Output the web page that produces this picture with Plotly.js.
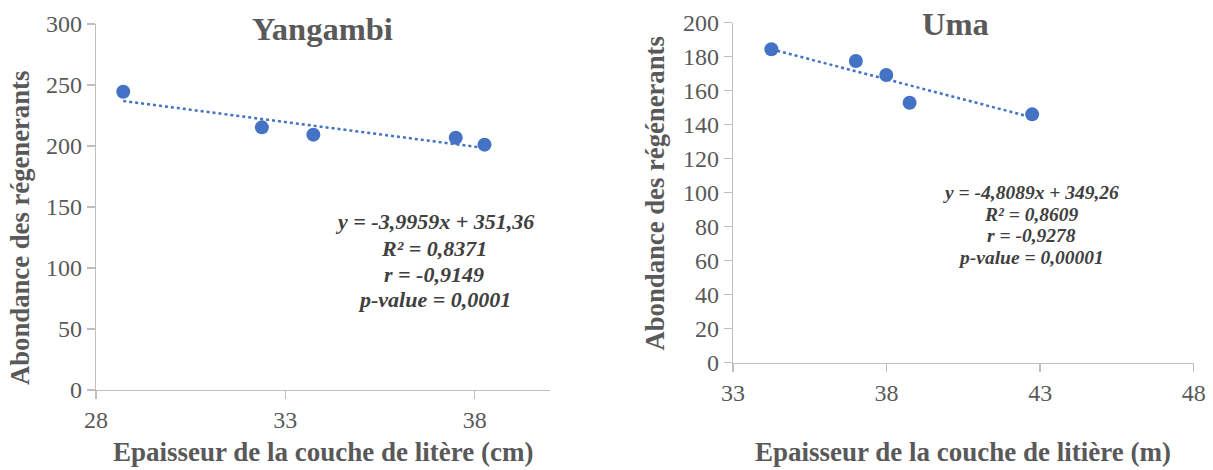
<!DOCTYPE html>
<html>
<head>
<meta charset="utf-8">
<script src="https://cdn.plot.ly/plotly-3.0.1.min.js"></script>
<style>html,body{margin:0;padding:0;background:#fff;}#chart{width:1213px;height:470px;}</style>
</head>
<body>
<div id="chart"></div>
<script>
// Yangambi data
const yangX = [28.72, 32.38, 33.74, 37.5, 38.26];
const yangY = [244.5, 215.3, 209.3, 206.8, 201.1];
const yangTrendX = [28.72, 38.26];
const yangTrendY = [236.9, 198.4];
const yangTitle = 'Yangambi';
const yangXTitle = 'Epaisseur de la couche de litère (cm)';
const yangYTitle = 'Abondance des régenerants';
const yangEq = ['y = -3,9959x + 351,36', 'R² = 0,8371', 'r = -0,9149', 'p-value = 0,0001'];
const yangXTicks = [28, 33, 38];
const yangYTicks = [0, 50, 100, 150, 200, 250, 300];

// Uma data
const umaX = [34.25, 37.0, 37.99, 38.75, 42.74];
const umaY = [184.4, 177.5, 169.2, 152.9, 146.1];
const umaTrendX = [34.25, 42.66];
const umaTrendY = [184.4, 144.7];
const umaTitle = 'Uma';
const umaXTitle = 'Epaisseur de la couche de litière (m)';
const umaYTitle = 'Abondance des régénerants';
const umaEq = ['y = -4,8089x + 349,26', 'R² = 0,8609', 'r = -0,9278', 'p-value = 0,00001'];
const umaXTicks = [33, 38, 43, 48];
const umaYTicks = [0, 20, 40, 60, 80, 100, 120, 140, 160, 180, 200];

const BLUE = '#4472C4';
const FONT = 'Liberation Serif';
const TXT = '#595959';
const EQ = '#404040';
const W = 1213, H = 470;
const px = v => v / W;
const py = v => 1 - v / H;

const traces = [
  {x: yangTrendX, y: yangTrendY, mode: 'lines', line: {color: BLUE, width: 2.5, dash: 'dot'}, xaxis: 'x', yaxis: 'y', hoverinfo: 'skip'},
  {x: yangX, y: yangY, mode: 'markers', marker: {color: BLUE, size: 14}, xaxis: 'x', yaxis: 'y'},
  {x: umaTrendX, y: umaTrendY, mode: 'lines', line: {color: BLUE, width: 2.5, dash: 'dot'}, xaxis: 'x2', yaxis: 'y2', hoverinfo: 'skip'},
  {x: umaX, y: umaY, mode: 'markers', marker: {color: BLUE, size: 14}, xaxis: 'x2', yaxis: 'y2'}
];

function axis(extra) {
  return Object.assign({
    showgrid: false, zeroline: false, showline: true, linecolor: '#bfbfbf', linewidth: 1.3,
    ticks: 'outside', ticklen: 8, tickcolor: '#bfbfbf', tickwidth: 1.3,
    tickmode: 'array',
    tickfont: {family: FONT, size: 24, color: TXT}, fixedrange: true
  }, extra);
}

function ann(text, x, y, size, color, extra) {
  return Object.assign({text: text, x: px(x), y: py(y), xref: 'paper', yref: 'paper', showarrow: false,
    font: {family: FONT, size: size, color: color}, xanchor: 'center', yanchor: 'middle'}, extra || {});
}

const yangEqY = [221.7, 248.3, 274, 299];
const umaEqY = [192.7, 214, 236, 257.7];

const annotations = [
  ann('<b>' + yangTitle + '</b>', 322, 29.5, 32.5, TXT),
  ann('<b>' + umaTitle + '</b>', 955, 24, 32.5, TXT),
  ann('<b>' + yangXTitle + '</b>', 323, 451.5, 27, TXT),
  ann('<b>' + umaXTitle + '</b>', 963, 451.5, 27, TXT),
  ann('<b>' + yangYTitle + '</b>', 20, 228, 26.7, TXT, {textangle: -90}),
  ann('<b>' + umaYTitle + '</b>', 654, 193.5, 26.7, TXT, {textangle: -90})
];
yangEq.forEach((s, i) => annotations.push(ann('<b><i>' + s + '</i></b>', 434, yangEqY[i], 22, EQ)));
umaEq.forEach((s, i) => annotations.push(ann('<b><i>' + s + '</i></b>', 1031, umaEqY[i], 19.5, EQ)));

const layout = {
  width: W, height: H,
  font: {family: FONT, size: 24, color: TXT},
  margin: {l: 0, r: 0, t: 0, b: 0},
  paper_bgcolor: '#fff', plot_bgcolor: '#fff',
  showlegend: false,
  xaxis: axis({domain: [px(96), px(550.4)], range: [28, 40], tickvals: yangXTicks, anchor: 'y'}),
  yaxis: axis({domain: [py(390), py(24)], range: [0, 300], tickvals: yangYTicks, anchor: 'x'}),
  xaxis2: axis({domain: [px(733), px(1193.7)], range: [33, 48], tickvals: umaXTicks, anchor: 'y2'}),
  yaxis2: axis({domain: [py(362.7), py(22.7)], range: [0, 200], tickvals: umaYTicks, anchor: 'x2'}),
  annotations: annotations
};

Plotly.newPlot('chart', traces, layout, {displayModeBar: false, staticPlot: true});
</script>
</body>
</html>
